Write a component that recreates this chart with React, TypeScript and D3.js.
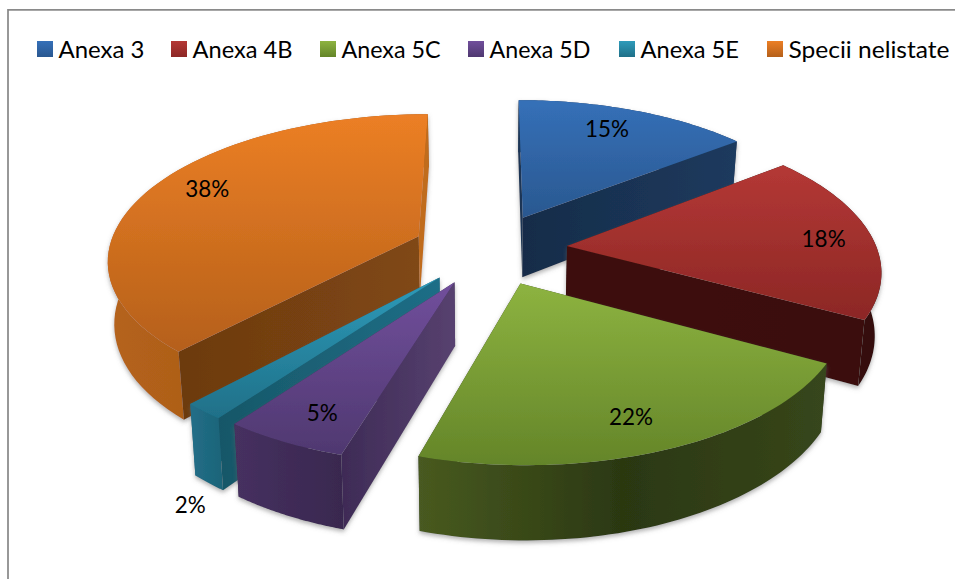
import React from "react";
import * as d3 from "d3";

const categories = ["Anexa 3", "Anexa 4B", "Anexa 5C", "Anexa 5D", "Anexa 5E", "Specii nelistate"];
const values = [14.4, 18.6, 21.6, 5.4, 1.8, 38.2];
const labels = ["15%", "18%", "22%", "5%", "2%", "38%"];
const labelRadius = [0.8, 0.84, 0.82, 0.83, 1.36, 0.82];
const labelAngle = [23.7, 86.5, 159.1, 205.1, 206.5, 295.6];
const labelWidth = [44, 44, 44, 31, 31, 44];
const topColors = [["#3570B8", "#2A5890"], ["#B43835", "#8C2725"], ["#8DB340", "#648529"], ["#714F9C", "#4F3870"], ["#2E9BBA", "#1F7088"], ["#EC7F25", "#B5601A"]];
const outerColors = [["#1C3A5E", "#1C3A5E"], ["#3A0F0D", "#340E0C"], ["#485A20", "#2B3811", "#37461B"], ["#463060", "#39284F"], ["#226E88", "#1C6478"], ["#B5631B", "#985311"]];
const startColors = [["#1B3554", "#1B3554"], ["#3E110F", "#3A0F0D"], ["#33411A", "#33411A"], ["#3E2B56", "#57416F"], ["#175768", "#1F6E87"], ["#6C3A10", "#804813"]];
const endColors = [["#172C49", "#1C3A5E"], ["#3E110F", "#3A0F0D"], ["#33411A", "#33411A"], ["#3B2A50", "#3B2A50"], ["#1F6B83", "#1F6B83"], ["#C06C1E", "#C06C1E"]];
const drawOrder = [0, 5, 1, 4, 3, 2];
const legendSwatchColors = ["#3570B8", "#B43835", "#8DB340", "#714F9C", "#2E9BBA", "#EC7F25"];
const legendSwatchX = [37, 171, 320, 468, 619, 767];
const legendTextWidth = [86, 100, 99, 101, 98.5, 161];

const W = 955, H = 579;
const cx = 490, cy = 249, vpY = -720, scaleX = 310, D = 6.75, explode = 0.25, depth = 61.5, taper = 0.017;
const font = "Lato, 'Open Sans', sans-serif";

type P = [number, number];

function project(X: number, Y: number, bottom = false): P {
  const s = D / (D - Y);
  const u = cx + scaleX * X * s;
  const v = vpY + (cy - vpY) * s;
  if (!bottom) return [u, v];
  return [cx + (u - cx) * (1 - taper), v + depth * s];
}

const pieLayout = d3.pie<number>().sort(null).value((d) => d).startAngle(0).endAngle(2 * Math.PI);
const arcs = pieLayout(values);
const line = d3.line<P>().x((d) => d[0]).y((d) => d[1]);
const cross = (a: P, o: P, b: P) => (a[0] - o[0]) * (b[1] - o[1]) - (a[1] - o[1]) * (b[0] - o[0]);

function sliceGeo(i: number) {
  const a = arcs[i];
  const mid = (a.startAngle + a.endAngle) / 2;
  const ox = explode * Math.sin(mid), oy = -explode * Math.cos(mid);
  const pt = (ang: number, r: number, bottom = false) => project(ox + r * Math.sin(ang), oy - r * Math.cos(ang), bottom);
  const steps = d3.range(0, 61).map((k) => a.startAngle + ((a.endAngle - a.startAngle) * k) / 60);
  const topArc = steps.map((t) => pt(t, 1));
  const botArc = steps.map((t) => pt(t, 1, true));
  const apex = pt(0, 0), apexB = pt(0, 0, true);
  const midPt = topArc[30];
  const faceVisible = (corner: P) => cross(corner, apex, apexB) * cross(corner, apex, midPt) < 0;
  const top = line([apex, ...topArc])! + "Z";
  const outer = line([...topArc, ...[...botArc].reverse()])! + "Z";
  const startFace = line([apex, topArc[0], botArc[0], apexB])! + "Z";
  const endFace = line([apex, topArc[60], botArc[60], apexB])! + "Z";
  const la = (labelAngle[i] * Math.PI) / 180;
  const labelPos = pt(la, labelRadius[i]);
  return { top, outer, startFace, endFace, labelPos, startVis: faceVisible(topArc[0]), endVis: faceVisible(topArc[60]) };
}

function Stops({ colors }: { colors: string[] }) {
  return <>{colors.map((c, k) => <stop key={k} offset={k / (colors.length - 1)} stopColor={c} />)}</>;
}

export default function App() {
  const geos = values.map((_, i) => sliceGeo(i));
  return (
    <svg width={W} height={H} viewBox={`0 0 ${W} ${H}`} style={{ position: "absolute", left: 0, top: 0, display: "block" }}>
      <defs>
        {values.map((_, i) => (
          <React.Fragment key={i}>
            <linearGradient id={`top${i}`} x1="0" y1="0" x2="0" y2="1"><Stops colors={topColors[i]} /></linearGradient>
            <linearGradient id={`outer${i}`} x1="0" y1="0" x2="1" y2="0"><Stops colors={outerColors[i]} /></linearGradient>
            <linearGradient id={`start${i}`} x1="0" y1="0" x2="1" y2="0"><Stops colors={startColors[i]} /></linearGradient>
            <linearGradient id={`end${i}`} x1="0" y1="0" x2="1" y2="0"><Stops colors={endColors[i]} /></linearGradient>
            <linearGradient id={`leg${i}`} x1="0" y1="0" x2="0" y2="1"><stop offset="0" stopColor={legendSwatchColors[i]} /><stop offset="1" stopColor={topColors[i][1]} /></linearGradient>
          </React.Fragment>
        ))}
        <filter id="soft" x="-10%" y="-10%" width="120%" height="125%">
          <feDropShadow dx="0" dy="2.5" stdDeviation="2" floodColor="#666" floodOpacity="0.5" />
        </filter>
      </defs>
      <rect width={W} height={H} fill="#fff" />
      <path d="M8 579V9.75H955" fill="none" stroke="#8A8A8A" strokeWidth={1.75} />
      {categories.map((c, i) => (
        <g key={c}>
          <rect x={legendSwatchX[i]} y={41} width={16} height={16} fill={`url(#leg${i})`} />
          <text x={legendSwatchX[i] + 21.5} y={58} fontFamily={font} fontSize={24} fill="#000" textLength={legendTextWidth[i]} lengthAdjust="spacingAndGlyphs">{c}</text>
        </g>
      ))}
      {drawOrder.map((i) => {
        const g = geos[i];
        return (
          <g key={i} filter="url(#soft)">
            {!g.startVis && <path d={g.startFace} fill={`url(#start${i})`} />}
            {!g.endVis && <path d={g.endFace} fill={`url(#end${i})`} />}
            <path d={g.outer} fill={`url(#outer${i})`} />
            {g.startVis && <path d={g.startFace} fill={`url(#start${i})`} />}
            {g.endVis && <path d={g.endFace} fill={`url(#end${i})`} />}
            <path d={g.top} fill={`url(#top${i})`} />
          </g>
        );
      })}
      {labels.map((t, i) => (
        <text key={t} x={geos[i].labelPos[0] - labelWidth[i] / 2} y={geos[i].labelPos[1] + 8} fontFamily={font} fontSize={24} fill="#000" textLength={labelWidth[i]} lengthAdjust="spacingAndGlyphs">{t}</text>
      ))}
    </svg>
  );
}
